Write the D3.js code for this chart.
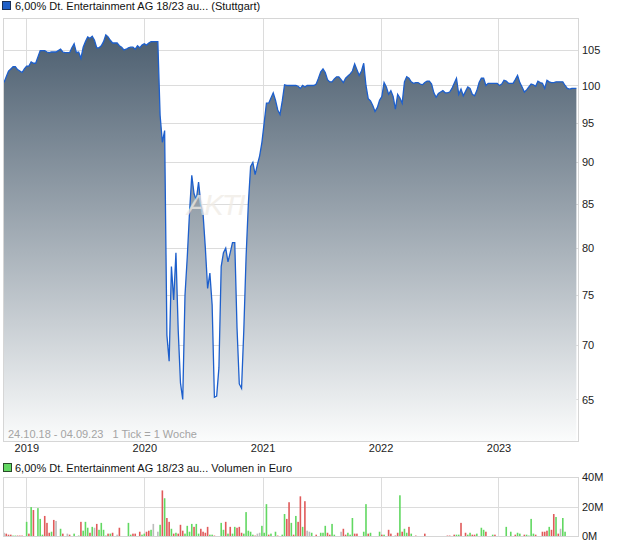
<!DOCTYPE html>
<html>
<head>
<meta charset="utf-8">
<script src="https://cdn.jsdelivr.net/npm/d3@7"></script>
<style>
    body { margin: 0; background: #fff; }
    svg { display: block; font-family: "Liberation Sans", Arial, sans-serif; }
</style>
</head>
<body>
<div class="container"></div>
<script>
const width = 620,
    height = 546;

const title = '6,00% Dt. Entertainment AG 18/23 au... (Stuttgart)';
const volumeTitle = '6,00% Dt. Entertainment AG 18/23 au... Volumen in Euro';
const rangeText = ['24.10.18 - 04.09.23', '1 Tick = 1 Woche'];

const startDate = '2018-10-24';
const endDate = '2023-09-04';
const yearTicks = ['2019', '2020', '2021', '2022', '2023'];
const priceTicks = [65, 70, 75, 80, 85, 90, 95, 100, 105];
const volumeTicks = [0, 20, 40];

// weekly closing prices, first week = startDate
const prices = [
    100.4, 101.2, 102.0, 102.3, 102.6, 102.6, 102.2, 102.0, 101.8, 102.3,
    102.7, 102.7, 103.3, 103.1, 103.1, 104.0, 104.9, 104.9, 104.9, 104.7,
    104.6, 104.7, 104.7, 104.7, 104.9, 105.1, 104.7, 104.6, 104.6, 104.6,
    105.3, 105.9, 104.6, 104.7, 103.8, 105.4, 106.2, 106.9, 106.7, 107.0,
    106.4, 105.3, 105.3, 105.6, 106.2, 107.2, 106.9, 106.4, 106.0, 106.0,
    106.0, 105.6, 105.4, 105.0, 105.1, 105.3, 105.4, 105.4, 105.1, 105.6,
    105.3, 105.7, 105.9, 105.7, 106.0, 106.2, 106.2, 106.2, 106.2, 96.0,
    92.5, 94.0, 71.0, 68.5, 78.0, 74.5, 79.5, 71.5, 66.5, 65.0,
    75.0, 79.0, 84.0, 88.4, 86.2, 85.5, 87.6, 85.0, 83.8, 80.0,
    75.7, 77.3, 74.0, 65.2, 65.3, 67.9, 78.0, 79.5, 80.0, 78.5,
    79.5, 80.6, 80.6, 71.7, 66.4, 66.0, 71.5, 79.0, 85.0, 89.5,
    90.0, 88.5, 89.7, 90.8, 92.5, 95.0, 97.6, 97.6, 98.3, 99.0,
    98.0, 96.7, 96.1, 97.9, 100.1, 100.0, 100.0, 100.0, 100.0, 100.0,
    99.9, 99.6, 100.0, 99.8, 100.0, 100.0, 100.0, 100.0, 100.2, 101.0,
    101.9, 102.3, 101.8, 100.8, 100.5, 100.5, 100.9, 101.2, 101.2, 100.8,
    100.4, 101.0, 101.3, 101.6, 102.0, 103.0, 102.2, 101.4, 102.0, 103.1,
    100.0, 98.2, 97.9, 97.3, 96.5, 97.0, 98.0, 98.5, 100.4, 99.8,
    98.8, 99.3, 98.5, 96.8, 98.8, 98.3, 97.6, 100.5, 101.2, 101.0,
    100.5, 100.3, 100.4, 100.4, 100.2, 100.1, 100.4, 100.6, 100.6, 100.2,
    99.0, 98.4, 98.9, 99.1, 99.3, 99.0, 99.0, 99.1, 99.6, 100.3,
    101.0, 98.8, 99.5, 98.6, 99.2, 99.8, 99.6, 98.8, 98.6, 99.3,
    100.4, 101.0, 101.0, 100.0, 100.3, 100.3, 100.3, 100.3, 100.3, 100.0,
    100.2, 100.7, 100.6, 100.3, 100.3, 100.3, 100.8, 101.4, 100.4, 99.8,
    99.1, 99.4, 99.8, 100.2, 100.1, 99.9, 100.6, 100.4, 100.3, 99.6,
    100.7, 100.5, 100.4, 100.4, 100.5, 100.5, 100.5, 100.5, 100.0, 99.6,
    99.5, 99.6, 99.6, 99.6
];

// weeks with turnover, turnover in million euro, u = up, d = down, n = unchanged
const volumeWeeks = [
    0, 1, 2, 3, 4, 5, 6, 7, 8, 10,
    11, 12, 13, 15, 16, 17, 18, 19, 20, 21,
    22, 23, 25, 26, 28, 29, 31, 33, 34, 35,
    36, 37, 38, 39, 40, 41, 42, 43, 44, 45,
    46, 47, 48, 50, 51, 55, 56, 57, 58, 60,
    61, 62, 63, 64, 65, 66, 68, 69, 70, 71,
    72, 73, 74, 75, 76, 77, 78, 79, 80, 81,
    82, 83, 84, 85, 86, 87, 88, 89, 90, 91,
    92, 93, 96, 97, 98, 99, 100, 101, 102, 103,
    104, 105, 106, 107, 108, 109, 110, 111, 112, 113,
    114, 115, 116, 117, 118, 120, 121, 123, 124, 125,
    126, 127, 128, 129, 130, 131, 132, 133, 134, 135,
    136, 138, 140, 141, 142, 143, 144, 145, 146, 149,
    150, 151, 152, 153, 154, 155, 156, 159, 160, 161,
    162, 166, 167, 168, 170, 171, 173, 174, 175, 176,
    177, 178, 179, 180, 182, 186, 196, 197, 199, 200,
    201, 202, 204, 205, 206, 207, 208, 209, 211, 212,
    213, 216, 217, 222, 224, 226, 227, 228, 230, 231,
    232, 233, 234, 235, 238, 239, 240, 241, 242, 243,
    244, 245, 246, 247, 248
];
const volumeMio = [
    2.2, 1.6, 0.9, 0.9, 0.3, 0.3, 0.3, 0.3, 0.3, 9.6,
    1.6, 19.6, 17.6, 18.9, 11.6, 0.9, 13.6, 8.9, 2.2, 2.9,
    10.9, 10.2, 4.9, 1.6, 1.6, 0.9, 1.6, 0.3, 9.6, 3.6,
    9.6, 5.6, 2.2, 6.2, 5.6, 8.2, 4.2, 8.9, 4.2, 0.3,
    1.6, 1.6, 2.2, 0.9, 5.6, 8.9, 0.9, 1.6, 1.6, 2.9,
    0.9, 1.6, 2.9, 3.6, 4.2, 8.2, 2.9, 7.6, 30.9, 25.6,
    12.2, 9.6, 4.9, 1.6, 2.2, 1.6, 7.6, 3.6, 1.6, 6.9,
    2.9, 8.2, 6.2, 8.2, 1.6, 4.9, 2.9, 2.2, 6.2, 0.9,
    0.9, 0.3, 8.9, 4.2, 9.6, 1.6, 6.2, 1.6, 6.2, 5.6,
    6.2, 2.2, 1.6, 16.2, 3.6, 2.9, 0.9, 0.3, 1.6, 2.2,
    6.9, 2.2, 21.6, 0.9, 1.6, 2.9, 0.3, 0.9, 14.9, 11.6,
    22.9, 8.9, 0.9, 13.6, 9.6, 26.9, 6.2, 23.6, 3.6, 2.9,
    2.2, 0.9, 2.2, 2.2, 6.9, 2.2, 0.9, 8.2, 0.9, 2.9,
    4.9, 0.9, 2.2, 0.9, 12.2, 1.6, 1.6, 2.9, 21.6, 1.6,
    2.2, 2.9, 0.9, 0.9, 4.2, 1.6, 0.3, 2.2, 27.6, 2.9,
    4.9, 2.2, 6.2, 1.6, 0.3, 1.6, 0.3, 0.3, 0.9, 0.9,
    0.9, 8.9, 2.2, 0.9, 2.2, 0.9, 0.9, 1.6, 5.6, 4.2,
    2.9, 0.9, 0.9, 6.2, 2.9, 0.9, 2.2, 1.6, 0.9, 0.9,
    0.3, 11.6, 1.6, 0.9, 2.9, 2.9, 3.6, 6.2, 4.2, 14.9,
    12.9, 1.6, 4.9, 12.2, 2.9
];
const volumeTrend = (
    'nddduudddu' + 'duduuudddu' + 'dnudnduudu' + 'uudunduuuu' + 'dudnduuddd' +
    'uuddunnudu' + 'ddududdduu' + 'uuduuddddu' + 'uduududuud' + 'dduuuuudnn' +
    'uuuduuduud' + 'dududdudnn' + 'uduuudduun' + 'dduuudduud' + 'uududdddud' +
    'uududddddu' + 'udduudduuu' + 'duduuduudu' + 'uuuddddudd' + 'udnuu'
).split('');

const parse = d3.utcParse('%Y-%m-%d');
const start = parse(startDate);
const weekDate = i => d3.utcDay.offset(start, 7 * i);

const priceData = prices.map((v, i) => ({ date: weekDate(i), value: v }));
const volumeData = volumeWeeks.map((w, i) => ({
    date: weekDate(w),
    value: volumeMio[i],
    trend: volumeTrend[i]
}));

const plot = { left: 3, right: 578, top: 18, bottom: 441 };
const vol = { top: 477, bottom: 536 };

const trendColor = { u: '#62d862', d: '#e05a5a', n: '#bcbcbc' };

const svg = d3.select('.container')
    .append('svg')
    .attr('width', width)
    .attr('height', height);

const x = d3.scaleUtc()
    .domain([start, parse(endDate)])
    .range([plot.left + 1, plot.right]);

const y = d3.scaleLog()
    .domain([61.4, 109.7])
    .range([plot.bottom, plot.top]);

const yVol = d3.scaleLinear()
    .domain([0, 40])
    .range([vol.bottom, vol.top]);

const years = yearTicks.map(t => parse(t + '-01-01'));

// ---------- header ----------
svg.append('rect')
    .attr('x', 2.5).attr('y', 1.5)
    .attr('width', 8).attr('height', 8)
    .attr('fill', '#1f5fc8')
    .attr('stroke', '#1a2f55');

svg.append('text')
    .attr('x', 15).attr('y', 10)
    .attr('font-size', 11)
    .attr('fill', '#111')
    .text(title);

// ---------- price panel ----------
const defs = svg.append('defs');

const grad = defs.append('linearGradient')
    .attr('id', 'fade')
    .attr('gradientUnits', 'userSpaceOnUse')
    .attr('x1', 0).attr('y1', plot.top)
    .attr('x2', 0).attr('y2', plot.bottom);
grad.append('stop').attr('offset', '0%').attr('stop-color', '#45586a');
grad.append('stop').attr('offset', '100%').attr('stop-color', '#fbfcfc');

defs.append('clipPath')
    .attr('id', 'clip')
    .append('rect')
    .attr('x', plot.left).attr('y', plot.top)
    .attr('width', plot.right - plot.left)
    .attr('height', plot.bottom - plot.top);

svg.append('g')
    .attr('class', 'grid')
    .attr('transform', `translate(${plot.left},0)`)
    .call(d3.axisLeft(y)
        .tickValues(priceTicks)
        .tickSize(-(plot.right - plot.left))
        .tickFormat(''));

svg.append('g')
    .attr('class', 'grid')
    .attr('transform', `translate(0,${plot.bottom})`)
    .call(d3.axisBottom(x)
        .tickValues(years)
        .tickSize(-(plot.bottom - plot.top))
        .tickFormat(''));

const chart = svg.append('g').attr('clip-path', 'url(#clip)');

chart.append('path')
    .datum(priceData)
    .attr('fill', 'url(#fade)')
    .attr('d', d3.area()
        .x(d => x(d.date))
        .y0(plot.bottom)
        .y1(d => y(d.value)));

// faint watermark, only its first letters show between the price spikes
svg.append('text')
    .attr('x', 187).attr('y', 215)
    .attr('font-size', 29)
    .attr('font-style', 'italic')
    .attr('letter-spacing', -2)
    .attr('fill', '#efebe5')
    .attr('opacity', 0.75)
    .text('AKTI');

chart.append('path')
    .datum(priceData)
    .attr('fill', 'none')
    .attr('stroke', '#1d5fcc')
    .attr('stroke-width', 1.3)
    .attr('d', d3.line()
        .x(d => x(d.date))
        .y(d => y(d.value)));

svg.append('rect')
    .attr('x', plot.left + 0.5).attr('y', plot.top + 0.5)
    .attr('width', plot.right - plot.left)
    .attr('height', plot.bottom - plot.top)
    .attr('fill', 'none')
    .attr('stroke', '#d6d6d6');

const range = svg.append('text')
    .attr('x', 8).attr('y', 438)
    .attr('font-size', 11)
    .attr('fill', '#a4a4a4');
range.append('tspan').text(rangeText[0]);
range.append('tspan').attr('dx', 9).text(rangeText[1]);

svg.append('g')
    .attr('class', 'axis')
    .attr('transform', `translate(${plot.right},0)`)
    .call(d3.axisRight(y)
        .tickValues(priceTicks)
        .tickSize(0)
        .tickPadding(4)
        .tickFormat(d3.format('d')));

svg.append('g')
    .attr('class', 'axis')
    .attr('transform', `translate(0,${plot.bottom})`)
    .call(d3.axisBottom(x)
        .tickValues(years)
        .tickSize(0)
        .tickPadding(3)
        .tickFormat(d3.utcFormat('%Y')));

// ---------- volume panel ----------
svg.append('rect')
    .attr('x', 3.5).attr('y', 463.5)
    .attr('width', 8).attr('height', 8)
    .attr('fill', '#62d862')
    .attr('stroke', '#2a4a2a');

svg.append('text')
    .attr('x', 15).attr('y', 472)
    .attr('font-size', 11)
    .attr('fill', '#111')
    .text(volumeTitle);

svg.append('g')
    .attr('class', 'grid')
    .attr('transform', `translate(${plot.left},0)`)
    .call(d3.axisLeft(yVol)
        .tickValues(volumeTicks)
        .tickSize(-(plot.right - plot.left))
        .tickFormat(''));

svg.append('g')
    .attr('class', 'grid')
    .attr('transform', `translate(0,${vol.bottom})`)
    .call(d3.axisBottom(x)
        .tickValues(years)
        .tickSize(-(vol.bottom - vol.top))
        .tickFormat(''));

svg.append('g')
    .selectAll('rect')
    .data(volumeData)
    .enter()
    .append('rect')
    .attr('x', d => x(d.date) - 0.8)
    .attr('y', d => yVol(d.value))
    .attr('width', 1.6)
    .attr('height', d => yVol(0) - yVol(d.value))
    .attr('fill', d => trendColor[d.trend]);

svg.append('rect')
    .attr('x', plot.left + 0.5).attr('y', vol.top + 0.5)
    .attr('width', plot.right - plot.left)
    .attr('height', vol.bottom - vol.top)
    .attr('fill', 'none')
    .attr('stroke', '#d6d6d6');

svg.append('g')
    .attr('class', 'axis')
    .attr('transform', `translate(${plot.right},0)`)
    .call(d3.axisRight(yVol)
        .tickValues(volumeTicks)
        .tickSize(0)
        .tickPadding(4)
        .tickFormat(d => d + 'M'));

svg.selectAll('.grid .domain, .axis .domain').remove();
svg.selectAll('.grid line')
    .attr('stroke', '#dcdcdc')
    .attr('shape-rendering', 'crispEdges');
svg.selectAll('.axis text')
    .attr('font-size', 11)
    .attr('font-family', '"Liberation Sans", Arial, sans-serif')
    .attr('fill', '#222');
</script>
</body>
</html>
